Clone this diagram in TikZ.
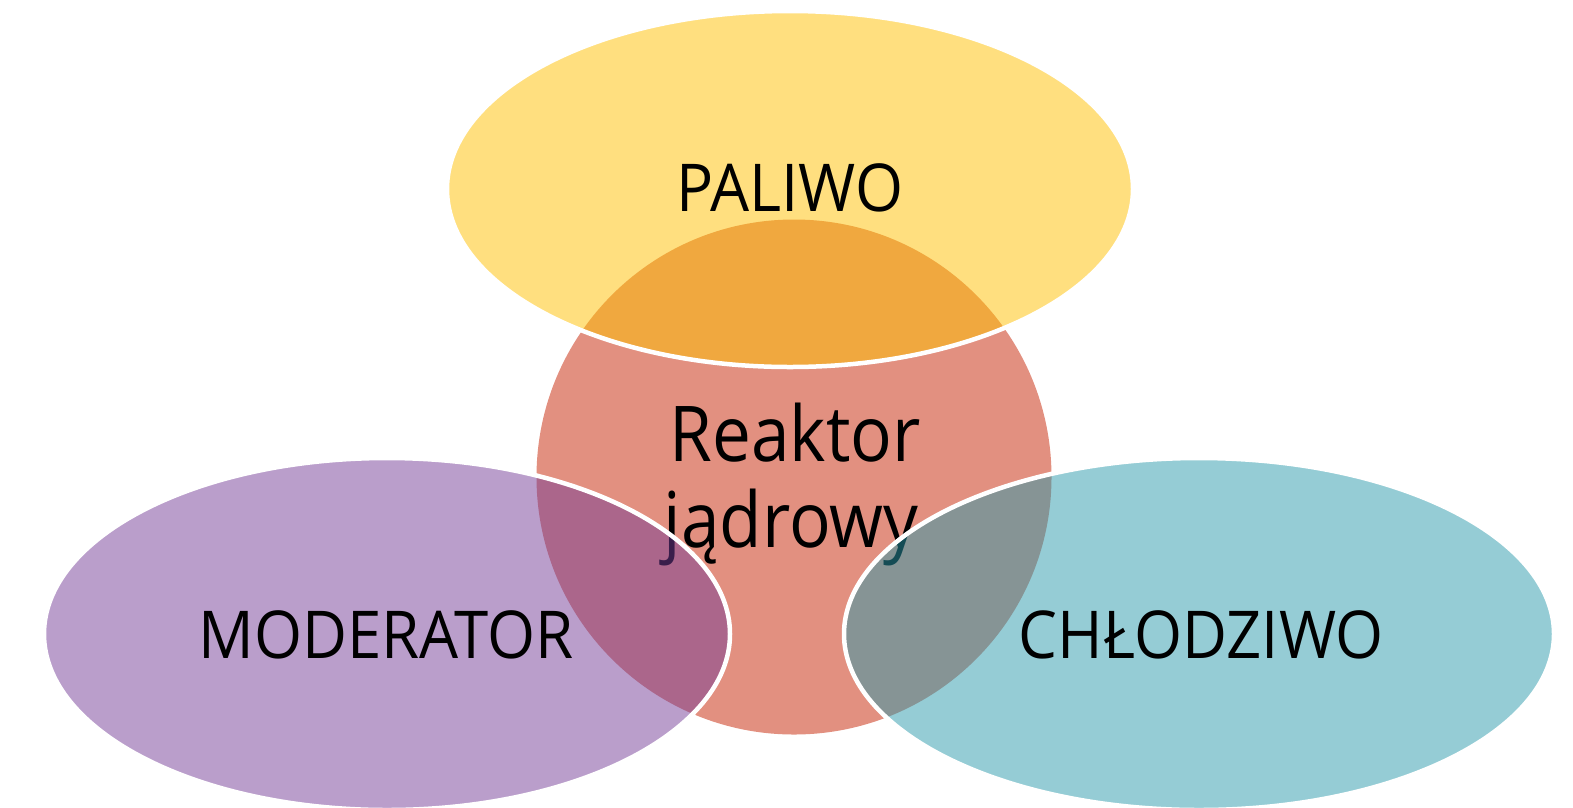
\documentclass[tikz,border=0pt]{standalone}
\usepackage{fontspec}
\setmainfont{Open Sans}
\newfontfamily\lblfont[FakeStretch=0.935]{Open Sans}
\newfontfamily\corefont[FakeStretch=0.9]{Open Sans}
\usetikzlibrary{shapes.geometric}
\definecolor{coreC}{HTML}{E29080}
\definecolor{fuelC}{HTML}{FFC000}
\definecolor{modC}{HTML}{753D97}
\definecolor{coolC}{HTML}{2B99AB}
\tikzset{
  petal/.style={ellipse, draw=white, line width=4.5pt, fill opacity=0.5, draw opacity=1, text opacity=1, inner sep=0pt},
  core/.style={circle, fill=coreC, draw=none, inner sep=0pt, minimum size=515pt},
  lbl/.style={anchor=base, inner sep=0pt, text=black, font=\lblfont\fontsize{66}{80}\selectfont},
  corelbl/.style={anchor=base, inner sep=0pt, text=black, font=\corefont\fontsize{77}{86}\selectfont}
}
\begin{document}
\begin{tikzpicture}[x=1pt,y=-1pt]
\useasboundingbox (0,0) rectangle (1573,807);
\node[core] (core) at (794,477) {};
\node[corelbl] (t1) at (795,461) {Reaktor};
\node[corelbl] (t2) at (791,547) {jądrowy};
\node[petal, fill=fuelC, minimum width=686pt, minimum height=356pt] (fuel) at (790,189) {};
\node[petal, fill=modC, minimum width=686pt, minimum height=352pt] (mod) at (387,634) {};
\node[petal, fill=coolC, minimum width=710pt, minimum height=352pt] (cool) at (1199,634) {};
\node[lbl] (lf) at (790,211) {PALIWO};
\node[lbl] (lm) at (386,658) {MODERATOR};
\node[lbl] (lc) at (1201,658) {CHŁODZIWO};
\end{tikzpicture}
\end{document}
